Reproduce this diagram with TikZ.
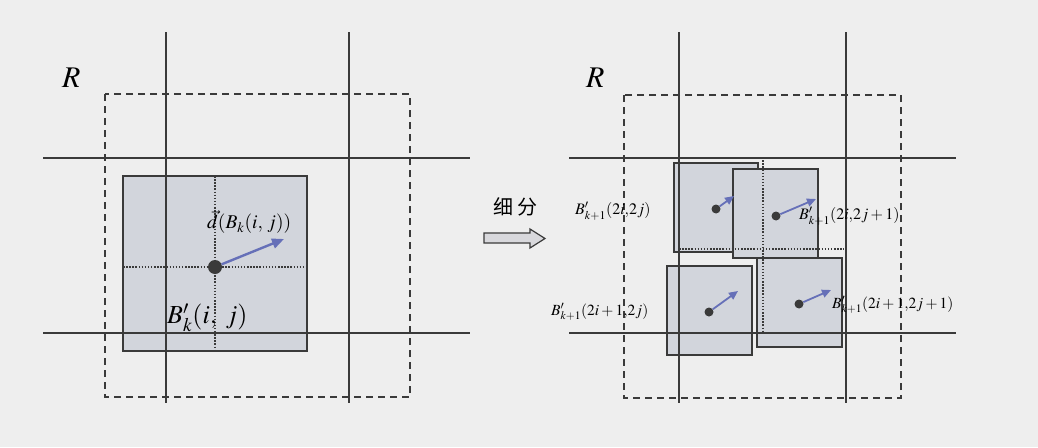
\documentclass[tikz,border=0pt]{standalone}
\usepackage{mathptmx}
\usepackage{fontspec}
\setmainfont{Liberation Serif}
\newfontfamily\cjk{Noto Sans CJK SC}
\usetikzlibrary{arrows.meta}
\definecolor{bgc}{HTML}{EEEEEE}
\definecolor{gridc}{HTML}{3A3A3A}
\definecolor{cellc}{HTML}{D2D5DC}
\definecolor{vecc}{HTML}{6670B8}
\definecolor{arrfill}{HTML}{D8D8DC}
\begin{document}
\begin{tikzpicture}[x=1pt,y=-1pt,
  gridline/.style={draw=gridc, line width=2pt},
  region/.style={draw=gridc, line width=1.8pt, dash pattern=on 7pt off 5pt},
  cell/.style={draw=gridc, fill=cellc, line width=2.4pt},
  guide/.style={draw=gridc, line width=1.5pt, dash pattern=on 1.5pt off 1.6pt},
  vecbig/.style={draw=vecc, line width=2.4pt, -{Triangle[length=12pt,width=10pt]}},
  vecsmall/.style={draw=vecc, line width=1.8pt, -{Triangle[length=9pt,width=8pt]}},
  dotnode/.style={circle, fill=gridc, inner sep=0pt, minimum size=#1},
  lab/.style={inner sep=0pt, anchor=west}]
\useasboundingbox (0,0) rectangle (1038,447);
\fill[bgc] (0,0) rectangle (1038,447);

% ---------- left panel ----------
\path[cell] (123,176) rectangle (307,351);
\draw[gridline] (166,32) -- (166,403);
\draw[gridline] (349,32) -- (349,403);
\draw[gridline] (43,158) -- (470,158);
\draw[gridline] (43,333) -- (470,333);
\draw[region] (105,94) rectangle (410,397);
\draw[guide] (215,176) -- (215,351);
\draw[guide] (123,267) -- (307,267);
\node[dotnode=14pt] (c0) at (215,267) {};
\coordinate (e0) at (284,239);
\draw[vecbig] (c0) -- (e0);
\node[lab] (lR1) at (62,78) {\fontsize{30}{32}\selectfont $R$};
\node[lab] (ld) at (207,222) {\fontsize{19.5}{22}\selectfont $\vec{d}(B_k(i,\,j))$};
\node[lab] (lB) at (167,318) {\fontsize{26}{28}\selectfont $B'_k(i,\;j)$};

% ---------- arrow ----------
\node[inner sep=0pt] (sub) at (515,207) {\fontsize{20}{22}\selectfont\cjk 细\hspace{4pt}分};
\draw[draw=gridc, fill=arrfill, line width=1.2pt]
  (484,233) -- (530,233) -- (530,229) -- (545,238.5) -- (530,248) -- (530,243) -- (484,243) -- cycle;

% ---------- right panel ----------
\path[cell] (674,163) rectangle (758,252);
\path[cell] (733,169) rectangle (818,258);
\path[cell] (667,266) rectangle (752,355);
\path[cell] (757,258) rectangle (842,347);
\draw[gridline] (679,32) -- (679,403);
\draw[gridline] (846,32) -- (846,403);
\draw[gridline] (569,158) -- (956,158);
\draw[gridline] (569,333) -- (956,333);
\draw[region] (624,95) rectangle (901,398);
\draw[guide] (763,157) -- (763,332);
\draw[guide] (679,249) -- (844,249);

\node[dotnode=9pt] (ca) at (716,209) {};
\node[dotnode=9pt] (cb) at (776,216) {};
\node[dotnode=9pt] (cc) at (709,312) {};
\node[dotnode=9pt] (cd) at (799,304) {};
\coordinate (ea) at (734,196);
\coordinate (eb) at (816,199);
\coordinate (ec) at (738,291);
\coordinate (ed) at (831,290);
\draw[vecsmall] (ca) -- (ea);
\draw[vecsmall] (cb) -- (eb);
\draw[vecsmall] (cc) -- (ec);
\draw[vecsmall] (cd) -- (ed);

\node[lab] (lR2) at (586,78) {\fontsize{30}{32}\selectfont $R$};
\node[lab] (la) at (575,211) {\fontsize{16}{18}\selectfont $B'_{k+1}(2i{,}2j)$};
\node[lab] (lb) at (799,216) {\fontsize{16}{18}\selectfont $B'_{k+1}(2i{,}2j+1)$};
\node[lab] (lc) at (551,312) {\fontsize{15.5}{17}\selectfont $B'_{k+1}(2i+1{,}2j)$};
\node[lab] (ld2) at (832,305) {\fontsize{15.5}{17}\selectfont $B'_{k+1}(2i+1{,}2j+1)$};
\end{tikzpicture}
\end{document}
